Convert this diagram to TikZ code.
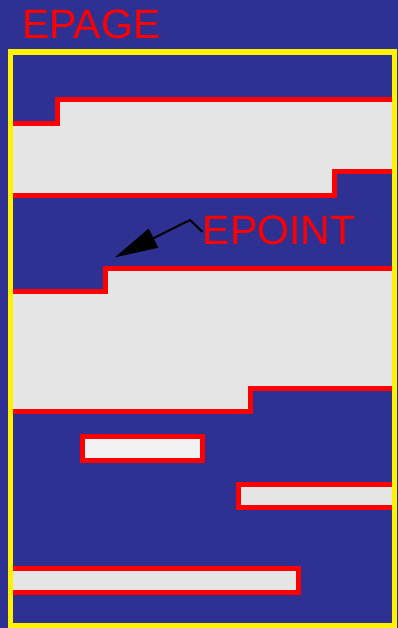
\documentclass[tikz,border=0pt]{standalone}
\usepackage{fontspec}
\setmainfont{Liberation Sans}
\usetikzlibrary{arrows.meta}
\definecolor{bgblue}{RGB}{46,49,146}
\definecolor{bandgrey}{RGB}{229,229,229}
\definecolor{boxgrey}{RGB}{242,242,242}
\begin{document}
\begin{tikzpicture}[x=1pt,y=-1pt,
  band/.style={fill=bandgrey,draw=red,line width=5pt,line join=miter},
  smallbox/.style={fill=boxgrey,draw=red,line width=5pt},
  lbl/.style={text=red,font=\fontsize{41}{41}\selectfont,inner sep=0pt,anchor=base west},
  pointer/.style={black,line width=2pt,-{Triangle[length=43pt,width=21pt]}}]
\fill[bgblue] (0,0) rectangle (398,628);
\useasboundingbox (0,0) rectangle (398,628);
\begin{scope}
  \clip (10.5,52) rectangle (394.5,626);
  \draw[band] (5,124) -- (57.5,124) -- (57.5,100) -- (400,100) -- (400,172) -- (334,172) -- (334,196) -- (5,196) -- cycle;
  \draw[band] (5,291.5) -- (105.5,291.5) -- (105.5,268.5) -- (400,268.5) -- (400,388) -- (250,388) -- (250,411.5) -- (5,411.5) -- cycle;
  \draw[smallbox] (82.5,436.5) rectangle (202,460);
  \draw[band] (238,484) rectangle (400,507.5);
  \draw[band] (5,568.5) rectangle (298,592);
\end{scope}
\draw[yellow,line width=5.5pt] (10.5,52) rectangle (394.5,626);
\node[lbl] (epage) at (22,39) {EPAGE};
\node[lbl] (epoint) at (202.5,244) {EPOINT};
\coordinate (bend) at (190,220);
\coordinate (tip) at (115,257.3);
\draw[pointer] ([yshift=-2pt]epoint.west) -- (bend) -- (tip);
\end{tikzpicture}
\end{document}
